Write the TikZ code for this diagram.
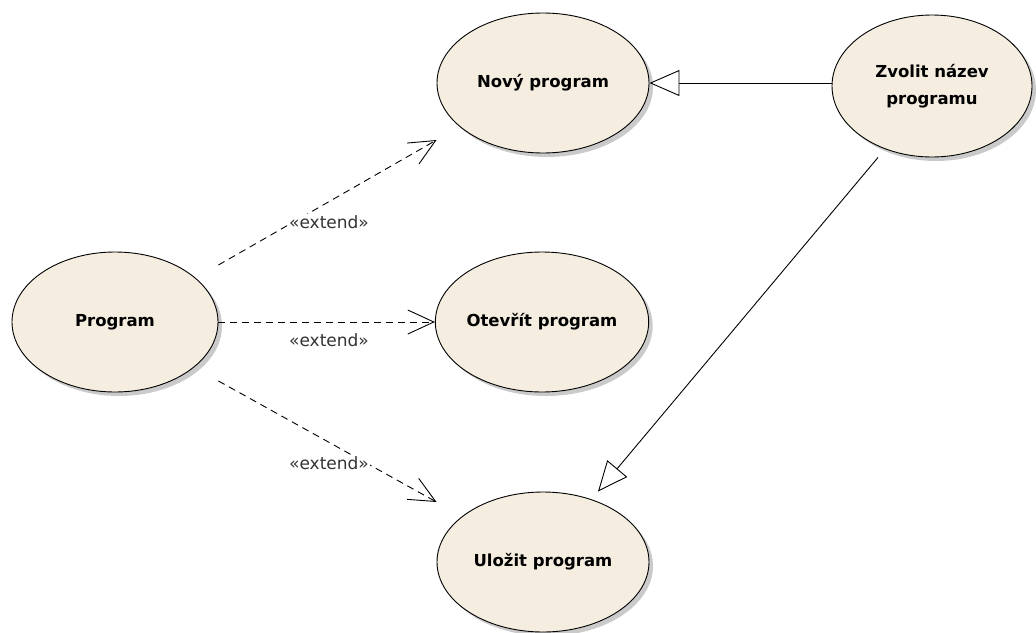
\documentclass[tikz,border=0pt]{standalone}
\usepackage{fontspec}
\setmainfont{DejaVu Sans}
\usetikzlibrary{arrows.meta,shadows,shapes.geometric}
\definecolor{ucfill}{RGB}{244,237,224}
\definecolor{ucshadow}{RGB}{150,150,150}
\tikzset{
  usecase/.style={ellipse, draw=black, line width=0.9pt, fill=ucfill,
    minimum width=212pt, minimum height=140pt, inner sep=0pt, align=center,
    font=\fontsize{16.5}{27}\selectfont\bfseries,
    drop shadow={shadow xshift=4pt, shadow yshift=-4pt, opacity=0.5, fill=ucshadow}},
  extendline/.style={line width=0.9pt, dash pattern=on 7pt off 5pt,
    -{Straight Barb[length=26pt,width=24pt,line width=0.9pt]}},
  genline/.style={line width=0.9pt,
    -{Triangle[open,length=30pt,width=26pt,line width=0.9pt,fill=white]}},
  stereo/.style={font=\fontsize{17}{19}\selectfont, text=black!80,
    fill=white, inner sep=1pt}
}
\begin{document}
\begin{tikzpicture}[x=1pt,y=1pt]
  \useasboundingbox (0,0) rectangle (1036,-632);
  \node[usecase, minimum width=206pt] (prog) at (115,-322) {Program};
  \node[usecase] (novy) at (543,-83) {Nový program};
  \node[usecase] (otev) at (542,-322) {Otevřít program};
  \node[usecase] (uloz) at (543,-562) {Uložit program};
  \node[usecase, minimum width=200pt, minimum height=142pt] (zvol) at (932,-86) {Zvolit název\\programu};

  % extend dependencies
  \draw[extendline] ([yshift=57pt]prog.east) -- ([yshift=-57pt]novy.west);
  \draw[extendline] (prog.east) -- (otev.west);
  \draw[extendline] ([yshift=-59pt]prog.east) -- ([yshift=60pt]uloz.west);
  \node[stereo] (e1) at (329,-222) {«extend»};
  \node[stereo] (e2) at (329,-340) {«extend»};
  \node[stereo] (e3) at (329,-463) {«extend»};

  % generalizations
  \draw[genline] (zvol.west |- novy.east) -- (novy.east);
  \draw[genline] ([xshift=-54pt]zvol.south) -- ([xshift=55pt]uloz.north);
\end{tikzpicture}
\end{document}
